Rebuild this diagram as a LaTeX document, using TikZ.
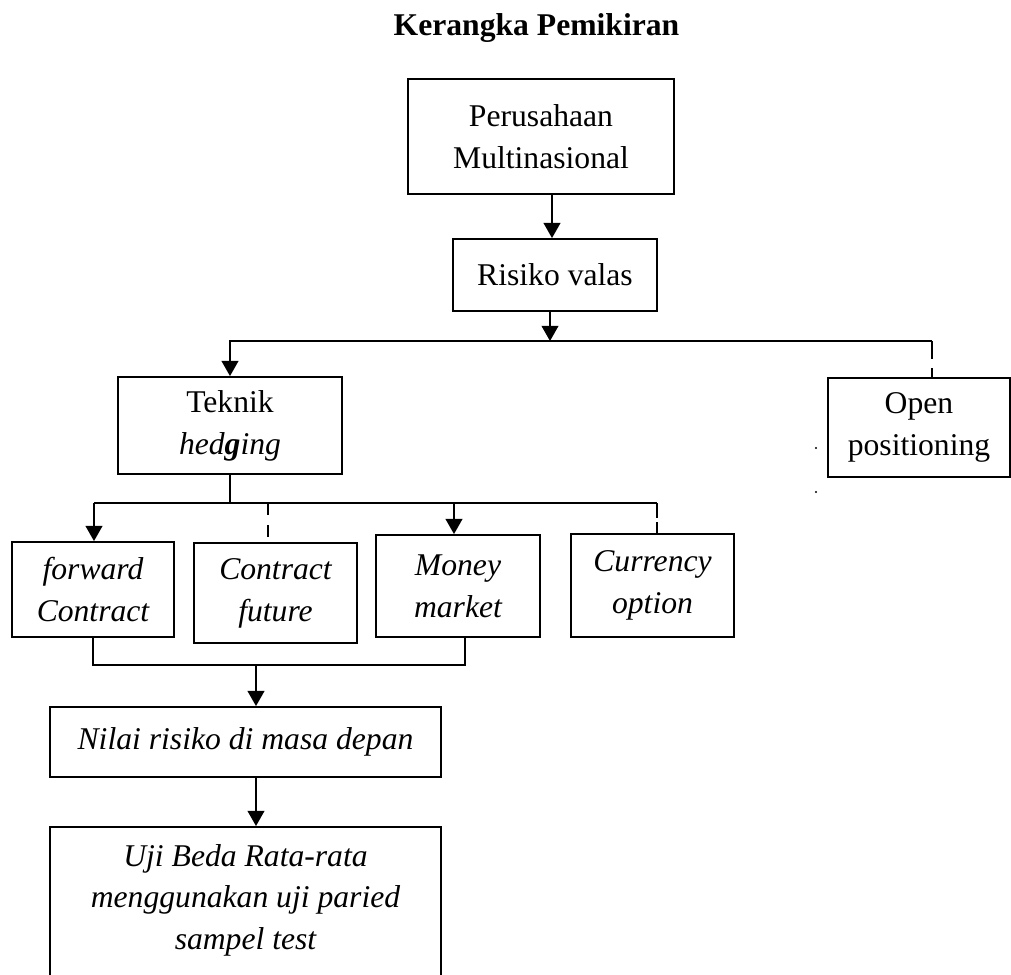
\documentclass[tikz,border=0pt]{standalone}
\usepackage{fontspec}
\setmainfont{Liberation Serif}
\usepackage{tikz}
\usetikzlibrary{arrows.meta,calc,positioning}
\newcommand{\hurufkotak}{\fontsize{22.5pt}{29.8pt}\selectfont}
\tikzset{
  kotak/.style={
    draw=black,
    line width=1.3pt,
    fill=white,
    align=center,
    inner sep=2pt,
    font=\hurufkotak
  },
  judul/.style={
    font=\hurufkotak\bfseries
  },
  garis/.style={
    line width=1.2pt,
    black
  },
  panah/.style={
    -{Triangle[length=0.38cm,width=0.42cm]},
    line width=1.2pt,
    black
  },
  putus/.style={
    line width=1.2pt,
    dash pattern=on 0.45cm off 0.22cm
  }
}

\begin{document}
\begin{tikzpicture}[x=0.025cm,y=-0.025cm]
\useasboundingbox (0,0) rectangle (1011,974);
\node[judul,anchor=base] (judul) at (536.5,35) {Kerangka Pemikiran};
\node[kotak,minimum width=6.65cm,minimum height=2.875cm] (perusahaan) at (541,136.5) {Perusahaan\\Multinasional};
\node[kotak,minimum width=5.1cm,minimum height=1.8cm] (risiko) at (555,275) {Risiko valas};
\node[kotak,minimum width=5.6cm,minimum height=2.425cm] (teknik) at (230,425.5) {Teknik\\\textit{hed\textbf{g}ing}};
\node[kotak,minimum width=4.55cm,minimum height=2.475cm] (open) at (919,427.5) {Open\\positioning};
\node[kotak,font=\hurufkotak\itshape,minimum width=4.05cm,minimum height=2.375cm] (forward) at (93,589.5) {forward\\Contract};
\node[kotak,font=\hurufkotak\itshape,minimum width=4.075cm,minimum height=2.5cm] (future) at (275.5,593) {Contract\\future};
\node[kotak,font=\hurufkotak\itshape,minimum width=4.1cm,minimum height=2.55cm] (money) at (458,586) {Money\\market};
\node[kotak,font=\hurufkotak\itshape,minimum width=4.075cm,minimum height=2.575cm] (currency) at (652.5,585.5) {Currency\\option};
\node[kotak,font=\hurufkotak\itshape,minimum width=9.775cm,minimum height=1.75cm] (nilai) at (245.5,742) {Nilai risiko di masa depan};
\node[kotak,font=\hurufkotak\itshape,minimum width=9.775cm,inner ysep=0.43cm,anchor=north] (uji) at (245.5,826) {Uji Beda Rata-rata\\menggunakan uji paried\\sampel test\\~};

\coordinate (cabang1) at (550,341);
\coordinate (kanan1) at (932,341);
\coordinate (cabang2) at (230,503);
\coordinate (turunA) at (94,503);
\coordinate (turunB) at (268,503);
\coordinate (turunC) at (454,503);
\coordinate (turunD) at (657,503);
\coordinate (gabung) at (256,665);
\coordinate (gabungkanan) at (465,665);

\draw[panah] (perusahaan.south -| 552,0) -- (risiko.north -| 552,0);
\draw[panah] (cabang1 |- risiko.south) -- (cabang1);
\draw[panah] (kanan1) -- (cabang1) -| (teknik.north);
\draw[putus] (kanan1) -- (kanan1 |- open.north);

\draw[garis] (teknik.south) -- (cabang2);
\draw[garis] (turunA) -- (turunD);
\draw[panah] (turunA) -- (turunA |- forward.north);
\draw[garis,dash pattern=on 0.3cm off 0.25cm] (turunB) -- (turunB |- future.north);
\draw[panah] (turunC) -- (turunC |- money.north);
\draw[garis,dash pattern=on 0.38cm off 0.1cm] (turunD) -- (turunD |- currency.north);

\draw[garis] (forward.south) |- (gabungkanan) -- (gabungkanan |- money.south);
\draw[panah] (gabung) -- (gabung |- nilai.north);
\draw[panah] (gabung |- nilai.south) -- (gabung |- uji.north);

\fill (816,448) circle (0.8pt);
\fill (816,492) circle (0.8pt);
\end{tikzpicture}
\end{document}
